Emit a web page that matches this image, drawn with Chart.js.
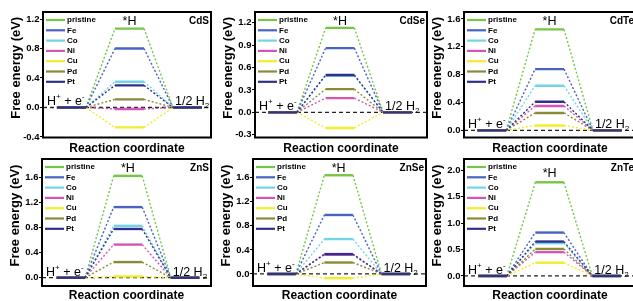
<!DOCTYPE html>
<html>
<head>
<meta charset="utf-8">
<script src="https://cdn.jsdelivr.net/npm/chart.js@4.4.1/dist/chart.umd.min.js"></script>
<style>
  html, body { margin: 0; padding: 0; background: #fff; }
  body { position: relative; width: 633px; height: 301px; overflow: hidden; }
  canvas.panel { position: absolute; }
</style>
</head>
<body>
<script>
const dopants = ["pristine", "Fe", "Co", "Ni", "Cu", "Pd", "Pt"];
const dopantColors = ["#77c545", "#4863c4", "#72d4e8", "#d554b6", "#f2ec2a", "#8a8a38", "#2f2f8c"];

// reaction coordinate: start/end of H+ + e-, *H, 1/2 H2
const reactionCoord = [0, 1, 2, 3, 4, 5];

// *H free energy (eV), same order as dopants
const cdsEnergy = [1.07, 0.80, 0.35, -0.02, -0.27, 0.11, 0.30];
const cdseEnergy = [1.13, 0.86, 0.49, 0.19, -0.21, 0.31, 0.50];
const cdteEnergy = [1.45, 0.88, 0.64, 0.35, 0.07, 0.25, 0.41];
const znsEnergy = [1.63, 1.13, 0.83, 0.53, 0.02, 0.25, 0.78];
const znseEnergy = [1.64, 0.98, 0.58, 0.32, -0.07, 0.19, 0.33];
const znteEnergy = [1.77, 0.82, 0.62, 0.45, 0.25, 0.51, 0.65];

const cdsTicks = [-0.4, 0.0, 0.4, 0.8, 1.2];
const cdseTicks = [-0.3, 0.0, 0.3, 0.6, 0.9, 1.2];
const cdteTicks = [0.0, 0.4, 0.8, 1.2, 1.6];
const znsTicks = [0.0, 0.4, 0.8, 1.2, 1.6];
const znseTicks = [0.0, 0.4, 0.8, 1.2, 1.6];
const znteTicks = [0.0, 0.5, 1.0, 1.5, 2.0];

const FONT = "'Liberation Sans', Arial, Helvetica, sans-serif";
const Y_AXIS_W = 43;
const PAD_TOP = 12;
const PAD_RIGHT = 4;
const CANVAS_H = 160;

// box = plot frame in page pixels [left, top, right, bottom]
const panels = [
  { name: "CdS", energy: cdsEnergy, ticks: cdsTicks, yMin: -0.407, yMax: 1.295, xMin: -0.48, xMax: 5.31, box: [43, 12, 211, 137.5] },
  { name: "CdSe", energy: cdseEnergy, ticks: cdseTicks, yMin: -0.337, yMax: 1.343, xMin: -0.46, xMax: 5.53, box: [255, 12, 427, 137.5] },
  { name: "CdTe", energy: cdteEnergy, ticks: cdteTicks, yMin: -0.103, yMax: 1.70, xMin: -0.46, xMax: 5.49, box: [464, 12, 636, 137.5] },
  { name: "ZnS", energy: znsEnergy, ticks: znsTicks, yMin: -0.133, yMax: 1.90, xMin: -0.51, xMax: 5.41, box: [42, 159, 211, 286] },
  { name: "ZnSe", energy: znseEnergy, ticks: znseTicks, yMin: -0.20, yMax: 1.91, xMin: -0.5, xMax: 5.56, box: [253, 159, 426, 286] },
  { name: "ZnTe", energy: znteEnergy, ticks: znteTicks, yMin: -0.19, yMax: 2.21, xMin: -0.5, xMax: 5.53, box: [464, 159, 636, 286] }
];

Chart.defaults.font.family = FONT;
Chart.defaults.color = "#000";

function levelProfile(energy) {
  const levels = [0, energy, 0];
  return reactionCoord.map((x, i) => ({ x, y: levels[Math.floor(i / 2)] }));
}

function drawRich(ctx, parts, x, y) {
  parts.forEach((part) => {
    const size = part.sup || part.sub ? 8 : 12.5;
    ctx.font = `${size}px ${FONT}`;
    const dy = part.sup ? -6 : part.sub ? 3 : 0;
    ctx.fillText(part.text, x, y + dy);
    x += ctx.measureText(part.text).width;
  });
}

const panelDecor = {
  id: "panelDecor",
  afterDatasetsDraw(chart, args, opts) {
    const { ctx, chartArea: area } = chart;
    const xs = chart.scales.x;
    const ys = chart.scales.y;
    ctx.save();
    ctx.setLineDash([]);
    ctx.strokeStyle = "#000";
    ctx.lineWidth = 2;
    ctx.strokeRect(area.left, area.top, area.right - area.left, area.bottom - area.top);

    ctx.fillStyle = "#000";
    ctx.textAlign = "left";
    ctx.textBaseline = "middle";
    dopants.forEach((name, i) => {
      const ly = area.top + 8 + i * 10.3;
      ctx.strokeStyle = dopantColors[i];
      ctx.lineWidth = 2.2;
      ctx.beginPath();
      ctx.moveTo(area.left + 3, ly);
      ctx.lineTo(area.left + 22, ly);
      ctx.stroke();
      ctx.font = `bold 8px ${FONT}`;
      ctx.fillText(name, area.left + 24, ly);
    });

    ctx.font = `bold 10px ${FONT}`;
    ctx.textAlign = "right";
    ctx.fillText(opts.name, area.right - 2, area.top + 9);

    const topY = ys.getPixelForValue(opts.energy[0]);
    ctx.font = `12.5px ${FONT}`;
    ctx.textAlign = "center";
    ctx.fillText("*H", xs.getPixelForValue((reactionCoord[2] + reactionCoord[3]) / 2), Math.max(area.top + 10, topY - 9));

    const zeroY = ys.getPixelForValue(0) - 2;
    ctx.textAlign = "left";
    ctx.textBaseline = "alphabetic";
    drawRich(ctx, [{ text: "H" }, { text: "+", sup: true }, { text: " + e" }, { text: "-", sup: true }], area.left + 4, zeroY);
    drawRich(ctx, [{ text: "1/2 H" }, { text: "2", sub: true }], xs.getPixelForValue(reactionCoord[4]) + 2, zeroY);

    ctx.translate(area.left - 27, (area.top + area.bottom) / 2 - 7);
    ctx.rotate(-Math.PI / 2);
    ctx.font = `bold 13px ${FONT}`;
    ctx.textAlign = "center";
    ctx.textBaseline = "middle";
    ctx.fillText("Free energy (eV)", 0, 0);
    ctx.restore();
  }
};

function buildDatasets(panel) {
  const sets = dopants.map((name, i) => ({
    label: name,
    data: levelProfile(panel.energy[i]),
    borderColor: dopantColors[i],
    borderWidth: 2.4,
    pointRadius: 0,
    order: dopants.length - i,
    segment: {
      borderDash: (ctx) => (ctx.p0DataIndex % 2 ? [2, 2] : undefined),
      borderWidth: (ctx) => (ctx.p0DataIndex % 2 ? 1.4 : undefined)
    }
  }));
  sets.push({
    label: "zero",
    data: [{ x: panel.xMin, y: 0 }, { x: panel.xMax, y: 0 }],
    borderColor: "#222",
    borderWidth: 1.3,
    borderDash: [4, 3],
    pointRadius: 0,
    order: 20
  });
  return sets;
}

function drawPanel(panel) {
  const [left, top, right, bottom] = panel.box;
  const canvasLeft = left - Y_AXIS_W;
  const canvasTop = top - PAD_TOP;
  const width = right + PAD_RIGHT - canvasLeft;
  const canvas = document.createElement("canvas");
  canvas.className = "panel";
  canvas.width = width;
  canvas.height = CANVAS_H;
  canvas.style.left = `${canvasLeft}px`;
  canvas.style.top = `${canvasTop}px`;
  canvas.style.width = `${width}px`;
  canvas.style.height = `${CANVAS_H}px`;
  document.body.appendChild(canvas);

  new Chart(canvas, {
    type: "line",
    data: { datasets: buildDatasets(panel) },
    options: {
      responsive: false,
      animation: false,
      devicePixelRatio: 1,
      layout: { padding: { top: PAD_TOP, right: PAD_RIGHT, left: 0, bottom: 0 } },
      plugins: {
        legend: { display: false },
        tooltip: { enabled: false },
        panelDecor: { name: panel.name, energy: panel.energy }
      },
      scales: {
        x: {
          type: "linear",
          min: panel.xMin,
          max: panel.xMax,
          ticks: { display: false },
          grid: { display: false },
          border: { display: false },
          title: {
            display: true,
            text: "Reaction coordinate",
            font: { size: 12, weight: "bold", lineHeight: 1 },
            padding: { top: 0, bottom: 5.5 }
          },
          afterFit: (scale) => { scale.height = CANVAS_H - (bottom - canvasTop); }
        },
        y: {
          min: panel.yMin,
          max: panel.yMax,
          afterBuildTicks: (scale) => { scale.ticks = panel.ticks.map((value) => ({ value })); },
          ticks: {
            autoSkip: false,
            padding: 0.5,
            font: { size: 9.5, weight: "bold" },
            callback: (value) => Number(value).toFixed(1)
          },
          grid: { drawOnChartArea: false, drawTicks: true, tickLength: 3, color: "#000", lineWidth: 1 },
          border: { display: false },
          afterFit: (scale) => { scale.width = Y_AXIS_W; }
        }
      }
    },
    plugins: [panelDecor]
  });
}

panels.forEach(drawPanel);
</script>
</body>
</html>
